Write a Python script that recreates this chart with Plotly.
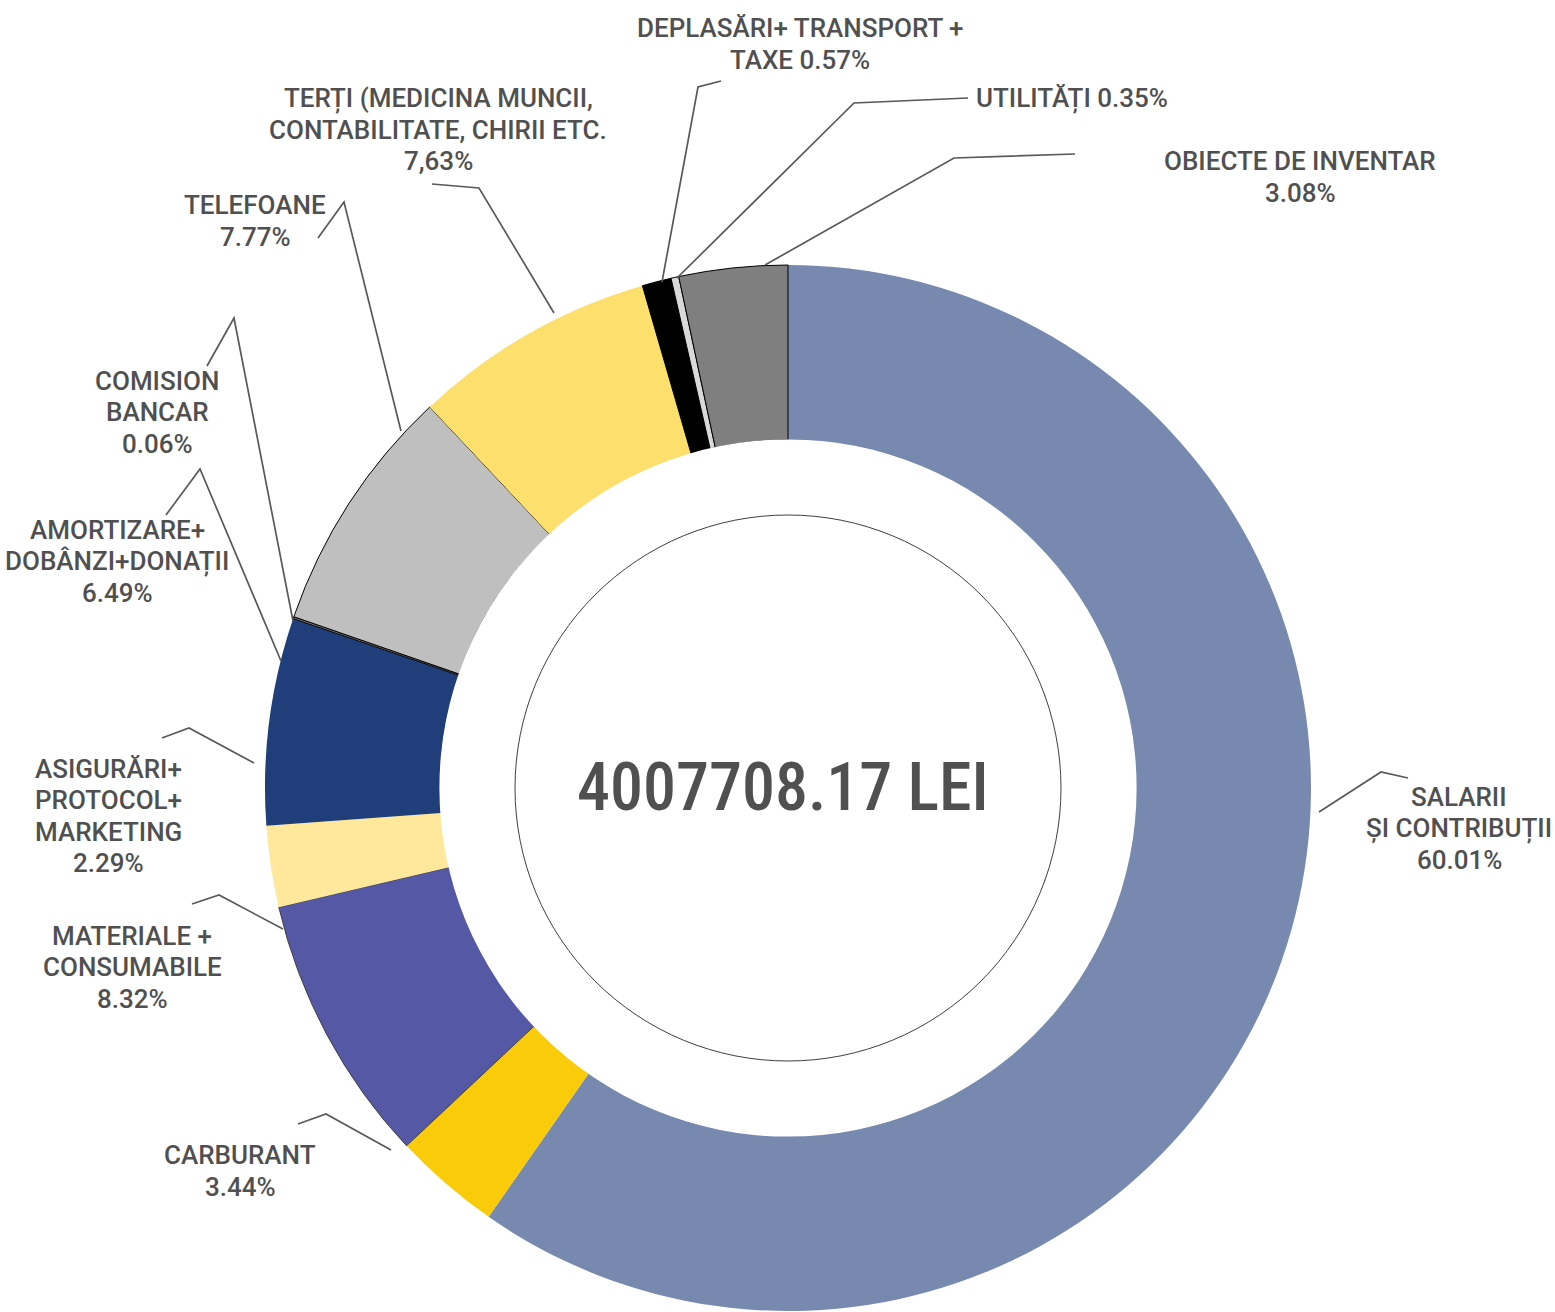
import plotly.graph_objects as go

# ---------------- data ----------------
categories = [
    "SALARII ȘI CONTRIBUȚII",
    "CARBURANT",
    "MATERIALE + CONSUMABILE",
    "ASIGURĂRI+ PROTOCOL+ MARKETING",
    "AMORTIZARE+ DOBÂNZI+DONAȚII",
    "COMISION BANCAR",
    "TELEFOANE",
    "TERȚI (MEDICINA MUNCII, CONTABILITATE, CHIRII ETC.",
    "DEPLASĂRI+ TRANSPORT + TAXE",
    "UTILITĂȚI",
    "OBIECTE DE INVENTAR",
]
# slice sizes as drawn in the picture (share of the ring, %)
values = [59.70, 3.31, 8.33, 2.51, 6.40, 0.06, 7.68, 7.52, 0.90, 0.24, 3.35]
# percentages as printed in the labels
pct_labels = ["60.01%", "3.44%", "8.32%", "2.29%", "6.49%", "0.06%",
              "7.77%", "7,63%", "0.57%", "0.35%", "3.08%"]
total_text = "4007708.17 LEI"

# ---------------- styling / layout ----------------
W, H = 1555, 1312
CX, CY, R_OUT, R_IN, R_RING = 788, 788, 523, 348, 273

colors = ["#7889B0", "#FACB0A", "#5559A5", "#FFE89B", "#1F3E7A", "#7F7F7F",
          "#BFBFBF", "#FCDF6C", "#000000", "#D9D9D9", "#7F7F7F"]
line_colors = ["#7889B0", "#FACB0A", "#404040", "#FFE89B", "#1F3E7A", "#000000",
               "#000000", "#FCDF6C", "#000000", "#000000", "#000000"]
line_widths = [0, 0, 1, 0, 0, 1, 1, 0, 1, 1, 1]

# label display templates ({p} = printed percentage)
label_templates = [
    "SALARII<br>ȘI CONTRIBUȚII<br>{p}",
    "CARBURANT<br>{p}",
    "MATERIALE +<br>CONSUMABILE<br>{p}",
    "ASIGURĂRI+<br>PROTOCOL+<br>MARKETING<br>{p}",
    "AMORTIZARE+<br>DOBÂNZI+DONAȚII<br>{p}",
    "COMISION<br>BANCAR<br>{p}",
    "TELEFOANE<br>{p}",
    "TERȚI (MEDICINA MUNCII,<br>CONTABILITATE, CHIRII ETC.<br>{p}",
    "DEPLASĂRI+ TRANSPORT +<br>TAXE {p}",
    "UTILITĂȚI {p}",
    "OBIECTE DE INVENTAR<br>{p}",
]

# label block centres (pixels) and anchors
label_pos = [
    (1459, 828, "center"),
    (240, 1171, "center"),
    (132, 967, "center"),
    (108, 816, "center"),
    (117, 561, "center"),
    (157, 412, "center"),
    (255, 221, "center"),
    (438, 130, "center"),
    (800, 44, "center"),
    (974, 98, "left"),
    (1300, 177, "center"),
]
LINE_STEP = 31.5
# leader lines (pixels): slice point -> elbow -> label end
leaders = [
    [(1319, 812), (1381, 772), (1408, 778)],
    [(391, 1150), (326, 1114), (298, 1124)],
    [(283, 929), (219, 895), (192, 904)],
    [(254, 763), (189, 728), (162, 738)],
    [(281, 661), (200, 469), (166, 515)],
    [(293, 621), (234, 318), (207, 366)],
    [(401, 431), (344, 202), (318, 238)],
    [(554, 313), (479, 188), (432, 184)],
    [(662, 282), (698, 87), (721, 81)],
    [(677, 278), (854, 103), (968, 98)],
    [(765, 265), (954, 158), (1075, 154)],
]

LABEL_FONT = "Roboto, Liberation Sans, sans-serif"
CENTER_FONT = "Arial Narrow, Roboto Condensed, Liberation Sans Narrow, Roboto, sans-serif"
TEXT_COLOR = "#505050"


def px(x):
    return x / W


def py(y):
    return 1 - y / H


fig = go.Figure()
fig.add_trace(go.Pie(
    labels=categories,
    values=values,
    sort=False,
    direction="clockwise",
    rotation=0,
    hole=R_IN / R_OUT,
    textinfo="none",
    marker=dict(colors=colors, line=dict(color=line_colors, width=line_widths)),
    domain=dict(x=[px(CX - R_OUT), px(CX + R_OUT)], y=[py(CY + R_OUT), py(CY - R_OUT)]),
    showlegend=False,
    hoverinfo="label",
))

shapes = []
# white cover over inner arcs (hides slice outlines on the hole edge)
shapes.append(dict(type="circle", xref="paper", yref="paper",
                   x0=px(CX - R_IN - 0.6), x1=px(CX + R_IN + 0.6),
                   y0=py(CY + R_IN + 0.6), y1=py(CY - R_IN - 0.6),
                   fillcolor="white", line=dict(width=0), layer="above"))
# thin inner ring
shapes.append(dict(type="circle", xref="paper", yref="paper",
                   x0=px(CX - R_RING), x1=px(CX + R_RING),
                   y0=py(CY + R_RING), y1=py(CY - R_RING),
                   line=dict(color="#404040", width=1), layer="above"))
for pts in leaders:
    path = "M " + " L ".join(f"{px(x):.5f},{py(y):.5f}" for x, y in pts)
    shapes.append(dict(type="path", xref="paper", yref="paper", path=path,
                       line=dict(color="#595959", width=1.7), layer="above"))

annotations = []
for tpl, p, (x, y, anchor) in zip(label_templates, pct_labels, label_pos):
    lines = tpl.format(p=p).split("<br>")
    n = len(lines)
    for i, line in enumerate(lines):
        ly = y + (i - (n - 1) / 2) * LINE_STEP
        annotations.append(dict(
            x=px(x), y=py(ly), xref="paper", yref="paper",
            text=line, showarrow=False,
            xanchor=anchor, yanchor="middle", align=anchor,
            font=dict(family=LABEL_FONT, size=26, color=TEXT_COLOR, weight=500),
        ))
annotations.append(dict(
    x=px(783), y=py(787), xref="paper", yref="paper",
    text=total_text, showarrow=False, xanchor="center", yanchor="middle",
    font=dict(family=CENTER_FONT, size=66, color=TEXT_COLOR, weight=500),
))

fig.update_layout(
    width=W, height=H,
    margin=dict(l=0, r=0, t=0, b=0),
    paper_bgcolor="white", plot_bgcolor="white",
    shapes=shapes, annotations=annotations,
)

fig.write_html(
    "out.html",
    config={"displayModeBar": False},
    post_script=(
        "document.body.style.margin='0';"
        "document.body.style.overflow='hidden';"
        "document.documentElement.style.overflow='hidden';"
    ),
)
